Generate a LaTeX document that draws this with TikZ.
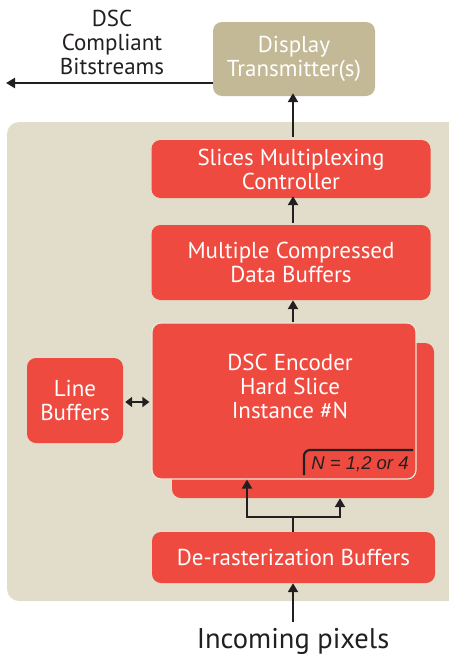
\documentclass[tikz,border=0pt]{standalone}
\usepackage{fontspec}
\setmainfont{PT Sans}
\newfontfamily\helv{Liberation Sans}
\usetikzlibrary{arrows.meta}
\definecolor{panel}{HTML}{E2DDCA}
\definecolor{boxred}{HTML}{EF4A3F}
\definecolor{tan}{HTML}{C4B996}
\definecolor{ink}{HTML}{231F20}
\tikzset{
  boxfont/.style={font=\fontsize{23}{24}\selectfont},
  redbox/.style={fill=boxred, rounded corners=9pt, text=white, align=center, boxfont, inner sep=0pt},
  arr/.style={draw=ink, line width=2.8pt, -{Triangle[width=10pt,length=9pt]}},
  darr/.style={draw=ink, line width=2.8pt, {Triangle[width=10pt,length=7pt]}-{Triangle[width=10pt,length=7pt]}},
  plain/.style={draw=ink, line width=2.8pt}
}
\begin{document}
\begin{tikzpicture}[x=1pt,y=-1pt]
\useasboundingbox (0,0) rectangle (448,659);
% background panel
\fill[panel, rounded corners=12pt] (7,122) rectangle (460,601);
% display transmitter
\node[redbox, fill=tan, minimum width=162pt, minimum height=74pt] (disp) at (294,59) {Display\\Transmitter(s)};
\coordinate (out) at (6,83);
\draw[arr] (disp.west |- out) -- (out);
\node[align=center, text=ink, boxfont] (lbl) at (112,42) {DSC\\Compliant\\Bitstreams};
% slices
\node[redbox, minimum width=279pt, minimum height=58pt] (slices) at (291,169) {Slices Multiplexing\\Controller};
\node[redbox, minimum width=279pt, minimum height=75pt] (mcdb) at (291,262.5) {Multiple Compressed\\Data Buffers};
% encoder
\node[redbox, minimum width=262pt, minimum height=155pt] (back) at (303,420.5) {};
\node[redbox, draw=panel!70!white, line width=1.2pt, minimum width=264pt, minimum height=156pt] (enc) at (284,401) {};
\node[text=white, align=center, boxfont] (enctxt) at (290,386) {DSC Encoder\\Hard Slice\\Instance \#N};
\coordinate (nb1) at (304,475);
\coordinate (nb2) at (413,450);
\draw[draw=ink, line width=2.2pt, rounded corners=6pt] (nb1) |- (nb2);
\node[text=ink, font=\helv\fontsize{18.5}{20}\selectfont\itshape] (nlbl) at (360,464) {N = 1,2 or 4};
% line buffers
\node[redbox, minimum width=96pt, minimum height=85pt] (lb) at (75,400.5) {Line\\Buffers};
\draw[darr] (lb.east |- 0,402) ++(2,0) -- ([xshift=-2pt]enc.west |- 0,402);
% derasterization
\node[redbox, minimum width=283pt, minimum height=51pt] (der) at (293.5,557.5) {De-rasterization Buffers};
\coordinate (fork) at (293,517);
\coordinate (fl) at (247,517);
\coordinate (fr) at (340,517);
\draw[plain] (der.north -| fork) -- (fork);
\draw[arr] (fork) -- (fl) -- (fl |- enc.south);
\draw[arr] (fork) -- (fr) -- (fr |- back.south);
% incoming
\node[text=ink, font=\fontsize{28.5}{30}\selectfont] (inc) at (293,641) {Incoming pixels};
\coordinate (in) at (293,622);
\draw[arr] (in) -- (der.south -| in);
% vertical arrows
\draw[arr] (mcdb.north -| 293,0) ++(0,-2) -- ([yshift=2pt]slices.south -| 293,0);
\draw[arr] (enc.north -| 293,0) -- (mcdb.south -| 293,0);
\coordinate (top) at (293,137);
\draw[arr] (top) -- ([yshift=3pt]disp.south -| top);
\end{tikzpicture}
\end{document}
